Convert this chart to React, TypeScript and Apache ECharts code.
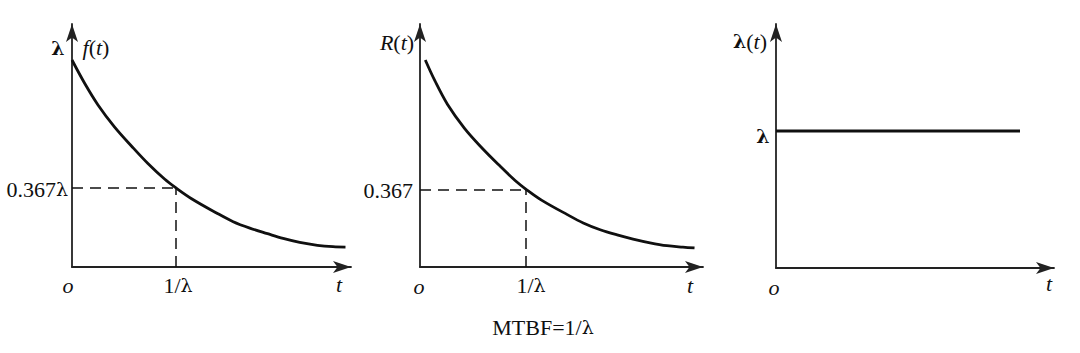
import React, { useEffect, useRef } from "react";
import * as echarts from "echarts";

// Panel 1: f(t) (t in units of 1/λ, f in units of λ)
const fT = [0, 0.12, 0.25, 0.41, 0.58, 0.73, 0.89, 1.0, 1.15, 1.39, 1.55, 1.71, 1.88, 2.03, 2.19, 2.36, 2.51, 2.63];
const fV = [1.0, 0.889, 0.783, 0.676, 0.58, 0.5, 0.425, 0.382, 0.33, 0.261, 0.219, 0.188, 0.161, 0.138, 0.119, 0.105, 0.098, 0.096];
const fMark = [1, 0.382];

// Panel 2: R(t)
const rT = [0.05, 0.14, 0.26, 0.42, 0.585, 0.74, 0.9, 1.01, 1.15, 1.39, 1.54, 1.7, 1.86, 2.01, 2.17, 2.33, 2.48, 2.59];
const rV = [1.0, 0.9, 0.785, 0.67, 0.575, 0.495, 0.417, 0.372, 0.322, 0.253, 0.213, 0.18, 0.155, 0.135, 0.117, 0.103, 0.096, 0.092];
const rMark = [1, 0.372];

// Panel 3: λ(t) constant
const lT = [0, 2.44];
const lV = [1, 1];

const INK = "#101010";
const AXIS = "#222222";
const SERIF = "'Liberation Serif', 'DejaVu Serif', serif";
const GREEK = "'DejaVu Serif', serif";

const zip = (a: number[], b: number[]) => a.map((x, i) => [x, b[i]]);

function axisPair(idx: number, xMax: number, yMax: number) {
  const axisLine = {
    show: true,
    symbol: ["none", "arrow"],
    symbolSize: [9, 18],
    lineStyle: { color: AXIS, width: 1.8 },
  };
  const base = {
    type: "value",
    gridIndex: idx,
    min: 0,
    axisLine,
    axisTick: { show: false },
    axisLabel: { show: false },
    splitLine: { show: false },
  };
  return { x: { ...base, max: xMax }, y: { ...base, max: yMax } };
}

function dashed(mark: number[]) {
  return {
    silent: true,
    symbol: "none",
    label: { show: false },
    lineStyle: { color: INK, width: 1.5, type: [11, 7] },
    data: [
      [{ coord: [0, mark[1]] }, { coord: [mark[0], mark[1]] }],
      [{ coord: [mark[0], 0] }, { coord: [mark[0], mark[1]] }],
    ],
  };
}

const rich = {
  i: { fontFamily: SERIF, fontStyle: "italic", fontSize: 22, fill: INK },
  n: { fontFamily: SERIF, fontSize: 22, fill: INK },
  l: { fontFamily: GREEK, fontSize: 19, fill: INK },
  b: { fontFamily: GREEK, fontWeight: "bold", fontSize: 19, fill: INK },
};

function txt(x: number, y: number, text: string, align = "center") {
  return {
    type: "text",
    x,
    y,
    silent: true,
    style: {
      text,
      rich,
      fontFamily: SERIF,
      fontSize: 22,
      fill: INK,
      textAlign: align,
      textVerticalAlign: "middle",
    },
  };
}

export default function App() {
  const ref = useRef<HTMLDivElement>(null);
  useEffect(() => {
    if (!ref.current) return;
    const chart = echarts.init(ref.current, undefined, { renderer: "svg" });
    const a1 = axisPair(0, 2.683, 1.174);
    const a2 = axisPair(1, 2.67, 1.174);
    const a3 = axisPair(2, 2.78, 1.781);
    const lineStyle = { color: INK, width: 2.8 };
    chart.setOption({
      animation: false,
      backgroundColor: "#ffffff",
      grid: [
        { left: 72, top: 24, width: 279, height: 243 },
        { left: 420, top: 24, width: 283, height: 243 },
        { left: 776, top: 24, width: 278, height: 244 },
      ],
      xAxis: [a1.x, a2.x, a3.x],
      yAxis: [a1.y, a2.y, a3.y],
      series: [
        {
          type: "line",
          xAxisIndex: 0,
          yAxisIndex: 0,
          data: zip(fT, fV),
          smooth: 0.35,
          showSymbol: false,
          lineStyle,
          markLine: dashed(fMark),
        },
        {
          type: "line",
          xAxisIndex: 1,
          yAxisIndex: 1,
          data: zip(rT, rV),
          smooth: 0.35,
          showSymbol: false,
          lineStyle,
          markLine: dashed(rMark),
        },
        {
          type: "line",
          xAxisIndex: 2,
          yAxisIndex: 2,
          data: zip(lT, lV),
          showSymbol: false,
          lineStyle,
        },
      ],
      graphic: [
        // panel 1
        txt(58, 48, "{b|λ}"),
        txt(96, 47, "{i|f}{n|(}{i|t}{n|)}"),
        txt(68, 189, "{n|0.367}{l|λ}", "right"),
        txt(68, 285, "{i|o}"),
        txt(178, 285, "{n|1/}{l|λ}"),
        txt(339, 284, "{i|t}"),
        // panel 2
        txt(397, 42, "{i|R}{n|(}{i|t}{n|)}"),
        txt(413, 190, "{n|0.367}", "right"),
        txt(419, 286, "{i|o}"),
        txt(531, 285, "{n|1/}{l|λ}"),
        txt(690, 285, "{i|t}"),
        txt(543, 327, "{n|MTBF=1/}{l|λ}"),
        // panel 3
        txt(750, 41, "{b|λ}{n|(}{i|t}{n|)}"),
        txt(763, 136, "{b|λ}"),
        txt(774, 287, "{i|o}"),
        txt(1049, 283, "{i|t}"),
      ],
    });
    return () => chart.dispose();
  }, []);
  return (
    <div
      ref={ref}
      style={{ position: "absolute", left: 0, top: 0, width: 1080, height: 353, background: "#fff" }}
    />
  );
}
